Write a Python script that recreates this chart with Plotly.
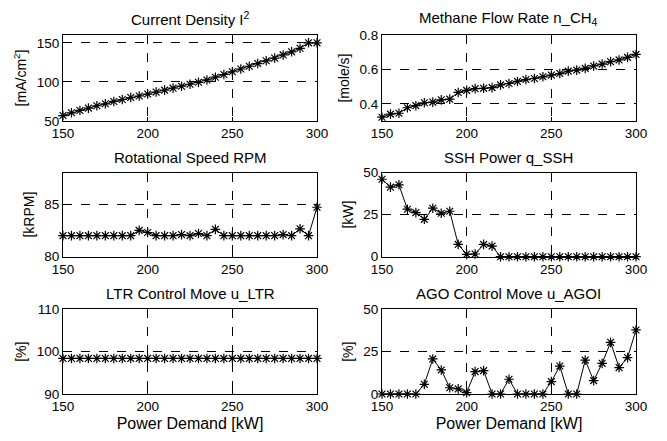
import plotly.graph_objects as go

power = [150, 155, 160, 165, 170, 175, 180, 185, 190, 195, 200, 205, 210, 215, 220, 225,
         230, 235, 240, 245, 250, 255, 260, 265, 270, 275, 280, 285, 290, 295, 300]

current_density = [57, 60.5, 63.5, 66.5, 69.5, 72, 75, 77.5, 80, 82, 84.5, 87, 89.5, 92, 94.5, 97,
                   99.5, 102.5, 106, 109.5, 113, 116.5, 120, 123.5, 127, 130.5, 134.5, 138.5, 143, 150, 150]

methane = [0.322, 0.34, 0.345, 0.377, 0.389, 0.406, 0.41, 0.423, 0.427, 0.466, 0.478, 0.488, 0.49,
           0.494, 0.51, 0.518, 0.53, 0.541, 0.547, 0.557, 0.567, 0.576, 0.59, 0.596, 0.606, 0.62,
           0.631, 0.645, 0.655, 0.67, 0.687]

rpm = [82, 82, 82, 82, 82, 82, 82, 82, 82, 82.5, 82.3, 82, 82, 82, 82.1, 82, 82.2, 82, 82.6, 82,
       82, 82, 82, 82, 82, 82, 82.1, 82, 82.65, 82, 84.7]

ssh = [46, 41.3, 42.7, 28.2, 26.2, 22.2, 28.8, 25.8, 27, 7.3, 1.4, 1.6, 7.3, 6.3, 0, 0, 0, 0, 0, 0,
       0, 0, 0, 0, 0, 0, 0, 0, 0, 0, 0]

ltr = [98.4] * 31

ago = [0, 0, 0, 0, 0, 5.7, 20.7, 14.2, 3.7, 3, 0.8, 13.2, 13.8, 0, 0, 8.7, 0, 0, 0, 0, 7.3, 16.5,
       0, 0, 20, 7.9, 18.1, 30.5, 15.6, 21.5, 37.8]

panels = [
    ("Current Density I<sup>2</sup>", "[mA/cm<sup>2</sup>]", current_density, [50, 160], [50, 100, 150], ["50", "100", "150"]),
    ("Methane Flow Rate n_CH<sub>4</sub>", "[mole/s]", methane, [0.3, 0.8], [0.4, 0.6, 0.8], ["0.4", "0.6", "0.8"]),
    ("Rotational Speed RPM", "[kRPM]", rpm, [80, 88], [80, 85], ["80", "85"]),
    ("SSH Power q_SSH", "[kW]", ssh, [0, 50], [0, 25, 50], ["0", "25", "50"]),
    ("LTR Control Move u_LTR", "[%]", ltr, [90, 110], [90, 100, 110], ["90", "100", "110"]),
    ("AGO Control Move u_AGOI", "[%]", ago, [0, 50], [0, 25, 50], ["0", "25", "50"]),
]

W, H = 667, 441
xdoms = [[63 / W, 317 / W], [382 / W, 636 / W]]
ydoms = [[1 - 121 / H, 1 - 35 / H], [1 - 256.7 / H, 1 - 172.5 / H], [1 - 394 / H, 1 - 309.3 / H]]

FONT = "Liberation Sans, Arial, sans-serif"
fig = go.Figure()
annotations = []
for i, (title, ylab, vals, yr, ytv, ytt) in enumerate(panels):
    r, c = divmod(i, 2)
    n = i + 1
    xa = "x" if n == 1 else f"x{n}"
    ya = "y" if n == 1 else f"y{n}"
    fig.add_trace(go.Scatter(
        x=power, y=vals, mode="lines+markers", xaxis=xa, yaxis=ya,
        line=dict(color="black", width=1),
        marker=dict(symbol="asterisk-open", size=8, color="black", line=dict(color="#222", width=1.2)),
        showlegend=False, cliponaxis=False))
    common = dict(showline=True, linecolor="black", linewidth=1.2, mirror=True,
                  showgrid=True, gridcolor="black", griddash="dash", gridwidth=0.8,
                  ticks="inside", ticklen=4, tickcolor="black", zeroline=False,
                  automargin=False,
                  tickfont=dict(family=FONT, size=13.5, color="black"))
    xkey = "xaxis" if n == 1 else f"xaxis{n}"
    ykey = "yaxis" if n == 1 else f"yaxis{n}"
    xdict = dict(common, domain=xdoms[c], range=[150, 300], tickvals=[150, 200, 250, 300],
                 anchor=ya)
    if r == 2:
        xdict["title"] = dict(text="Power Demand [kW]", font=dict(family=FONT, size=16, color="black"), standoff=4)
    ydict = dict(common, domain=ydoms[r], range=yr, tickvals=ytv, ticktext=ytt, anchor=xa,
                 title=dict(text=ylab, font=dict(family=FONT, size=14, color="black"), standoff=6))
    fig.update_layout({xkey: xdict, ykey: ydict})
    annotations.append(dict(text=title, xref="paper", yref="paper",
                            x=(xdoms[c][0] + xdoms[c][1]) / 2, y=ydoms[r][1] + 5 / H,
                            xanchor="center", yanchor="bottom", showarrow=False,
                            font=dict(family=FONT, size=15, color="black")))

fig.update_layout(width=W, height=H, margin=dict(l=0, r=0, t=0, b=0),
                  paper_bgcolor="white", plot_bgcolor="white",
                  annotations=annotations, font=dict(family=FONT, color="black"))
fig.write_html("out.html", config={"displayModeBar": False},
               post_script="document.body.style.margin='0';document.body.style.overflow='hidden';")
